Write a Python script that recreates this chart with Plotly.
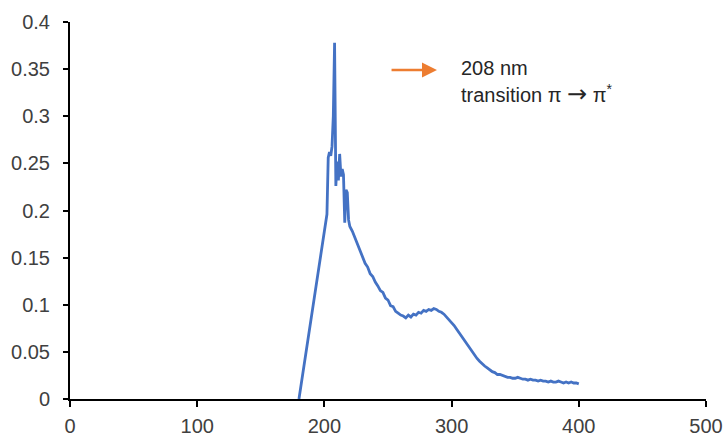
import plotly.graph_objects as go

wavelength = [180, 202, 203, 204, 205, 206, 207, 208, 209, 210, 211, 212, 213, 214, 215, 216, 217, 218, 219, 220,
              222, 224, 226, 228, 230, 232, 234, 236, 238, 240, 242, 244, 246, 248, 250, 252, 254, 256, 258, 260,
              262, 264, 266, 268, 270, 272, 274, 276, 278, 280, 282, 284, 286, 288, 290, 292, 294, 296, 298, 300,
              302, 304, 306, 308, 310, 312, 314, 316, 318, 320, 322, 324, 326, 328, 330, 332, 334, 336, 338, 340,
              342, 344, 346, 348, 350, 352, 354, 356, 358, 360, 362, 364, 366, 368, 370, 372, 374, 376, 378, 380,
              382, 384, 386, 388, 390, 392, 394, 396, 398, 400]
absorbance = [0.0, 0.196, 0.256, 0.262, 0.258, 0.268, 0.300, 0.378, 0.226, 0.252, 0.232, 0.260, 0.236, 0.244, 0.238, 0.187, 0.222, 0.219, 0.190, 0.183,
              0.178, 0.171, 0.163, 0.157, 0.151, 0.144, 0.140, 0.133, 0.130, 0.124, 0.120, 0.115, 0.113, 0.107, 0.105, 0.099, 0.098, 0.093, 0.091, 0.089,
              0.088, 0.086, 0.089, 0.087, 0.090, 0.089, 0.092, 0.091, 0.094, 0.093, 0.095, 0.094, 0.096, 0.095, 0.093, 0.092, 0.090, 0.087, 0.085, 0.082,
              0.078, 0.074, 0.070, 0.066, 0.062, 0.058, 0.054, 0.050, 0.047, 0.043, 0.040, 0.037, 0.035, 0.033, 0.031, 0.029, 0.028, 0.026, 0.026, 0.025,
              0.024, 0.023, 0.023, 0.022, 0.022, 0.023, 0.022, 0.021, 0.021, 0.020, 0.021, 0.020, 0.020, 0.019, 0.020, 0.019, 0.019, 0.018, 0.019, 0.018,
              0.018, 0.019, 0.018, 0.017, 0.018, 0.017, 0.018, 0.017, 0.017, 0.016]

x_ticks = [0, 100, 200, 300, 400, 500]
y_ticks = [0, 0.05, 0.1, 0.15, 0.2, 0.25, 0.3, 0.35, 0.4]
y_ticktext = ["0", "0.05", "0.1", "0.15", "0.2", "0.25", "0.3", "0.35", "0.4"]

fig = go.Figure()
fig.add_trace(go.Scatter(x=wavelength, y=absorbance, mode="lines",
                         line=dict(color="#4472C4", width=2.8), showlegend=False))

font = dict(family="Liberation Sans, Arial, sans-serif", size=20, color="#404040")

fig.update_layout(
    width=724, height=437,
    margin=dict(l=70, r=18, t=22, b=38),
    paper_bgcolor="white", plot_bgcolor="white",
    font=font,
    xaxis=dict(range=[0, 500], tickvals=x_ticks, showgrid=False, zeroline=False,
               showline=True, linecolor="black", linewidth=2, automargin=False,
               ticks="outside", ticklen=6, tickwidth=2, tickcolor="black",
               ticklabelstandoff=2),
    yaxis=dict(range=[0, 0.4], tickvals=y_ticks, ticktext=y_ticktext, showgrid=False, zeroline=False,
               showline=True, linecolor="black", linewidth=2, automargin=False,
               ticks="outside", ticklen=5, tickwidth=2, tickcolor="black",
               ticklabelstandoff=9),
)

fig.add_annotation(x=288.5, y=0.349, ax=251.6, ay=0.349, axref="x", ayref="y",
                   xref="x", yref="y", text="", showarrow=True,
                   arrowhead=2, arrowsize=1.2, arrowwidth=2.5, arrowcolor="#ED7D31")
fig.add_annotation(x=305.5, y=0.351, xref="x", yref="y", text="208 nm",
                   showarrow=False, xanchor="left", yanchor="middle",
                   font=dict(family="Liberation Sans, Arial, sans-serif", size=20, color="#262626"))
fig.add_annotation(x=305.5, y=0.324, xref="x", yref="y",
                   text="transition π <span style='font-family:DejaVu Sans;font-size:24px'>→</span> π<sup>*</sup>",
                   showarrow=False, xanchor="left", yanchor="middle",
                   font=dict(family="Liberation Sans, Arial, sans-serif", size=20, color="#262626"))

# remove the default 8px page margin so the figure fills the 724x437 window exactly
fig.write_html("out.html",
               config={"displayModeBar": False},
               post_script="document.body.style.margin='0';document.body.style.overflow='hidden';")
